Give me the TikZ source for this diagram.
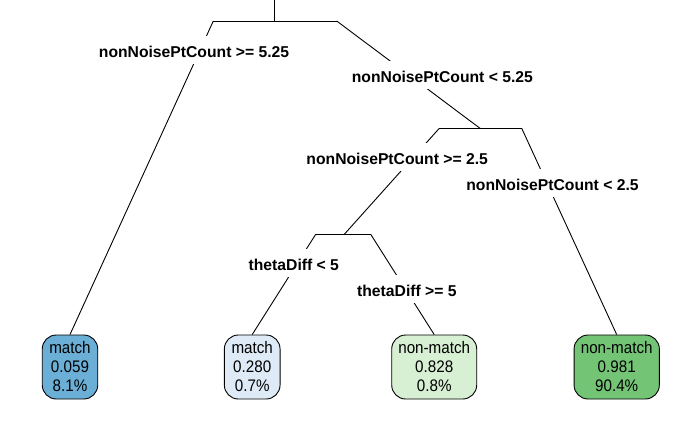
\documentclass[tikz,border=0pt]{standalone}
\usepackage{fontspec}
\usepackage{graphicx}
\setmainfont{Liberation Sans}
\definecolor{leafA}{HTML}{6BAED6}
\definecolor{leafB}{HTML}{DEEBF7}
\definecolor{leafC}{HTML}{D7EFD2}
\definecolor{leafD}{HTML}{74C476}
\newcommand{\leaftxt}[1]{\scalebox{1}[1.1]{#1}}
\tikzset{
  edge/.style={draw=black, line width=0.9bp},
  splitlabel/.style={fill=white, inner xsep=2bp, inner ysep=0pt, text height=21.4bp, text depth=6.6bp,
    anchor=base, font=\fontsize{15.7bp}{18bp}\selectfont\bfseries},
  leaf/.style={draw=black, line width=0.9bp, rounded corners=14bp, minimum height=64bp, inner sep=0pt,
    align=center, font=\fontsize{15.2bp}{19bp}\selectfont},
}
\begin{document}
\begin{tikzpicture}[x=1bp,y=-1bp]
\useasboundingbox (0,0) rectangle (700,432);
% leaves
\node[leaf, fill=leafA, minimum width=55.5bp] (l1) at (70,367) {\leaftxt{match}\\\leaftxt{0.059}\\\leaftxt{8.1\%}};
\node[leaf, fill=leafB, minimum width=55.7bp] (l2) at (252.2,367) {\leaftxt{match}\\\leaftxt{0.280}\\\leaftxt{0.7\%}};
\node[leaf, fill=leafC, minimum width=85bp] (l3) at (434.2,367) {\leaftxt{non-match}\\\leaftxt{0.828}\\\leaftxt{0.8\%}};
\node[leaf, fill=leafD, minimum width=85.3bp] (l4) at (616.7,367) {\leaftxt{non-match}\\\leaftxt{0.981}\\\leaftxt{90.4\%}};
% split bars
\coordinate (top) at (274.3,0);
\coordinate (b1m) at (274.3,21);
\coordinate (b1l) at (213.3,21);
\coordinate (b1r) at (336.7,21);
\coordinate (b2m) at (480,128.3);
\coordinate (b2l) at (439.3,128.3);
\coordinate (b2r) at (521.7,128.3);
\coordinate (b3m) at (344.3,234.3);
\coordinate (b3l) at (315.7,234.3);
\coordinate (b3r) at (370.7,234.3);
\draw[edge] (top) -- (b1m);
\draw[edge] (b1l) -- (b1r);
\draw[edge] (b2l) -- (b2r);
\draw[edge] (b3l) -- (b3r);
\draw[edge] (b1l) -- (l1.north);
\draw[edge] (b1r) -- (b2m);
\draw[edge] (b2l) -- (b3m);
\draw[edge] (b2r) -- (l4.north);
\draw[edge] (b3l) -- (l2.north);
\draw[edge] (b3r) -- (l3.north);
% split labels
\node[splitlabel] (s1) at (194,57.3) {nonNoisePtCount >= 5.25};
\node[splitlabel] (s2) at (442.4,82.3) {nonNoisePtCount < 5.25};
\node[splitlabel] (s3) at (397.2,164) {nonNoisePtCount >= 2.5};
\node[splitlabel] (s4) at (552.5,190.7) {nonNoisePtCount < 2.5};
\node[splitlabel] (s5) at (293.8,270.7) {thetaDiff < 5};
\node[splitlabel] (s6) at (406.9,296.7) {thetaDiff >= 5};
\end{tikzpicture}
\end{document}
